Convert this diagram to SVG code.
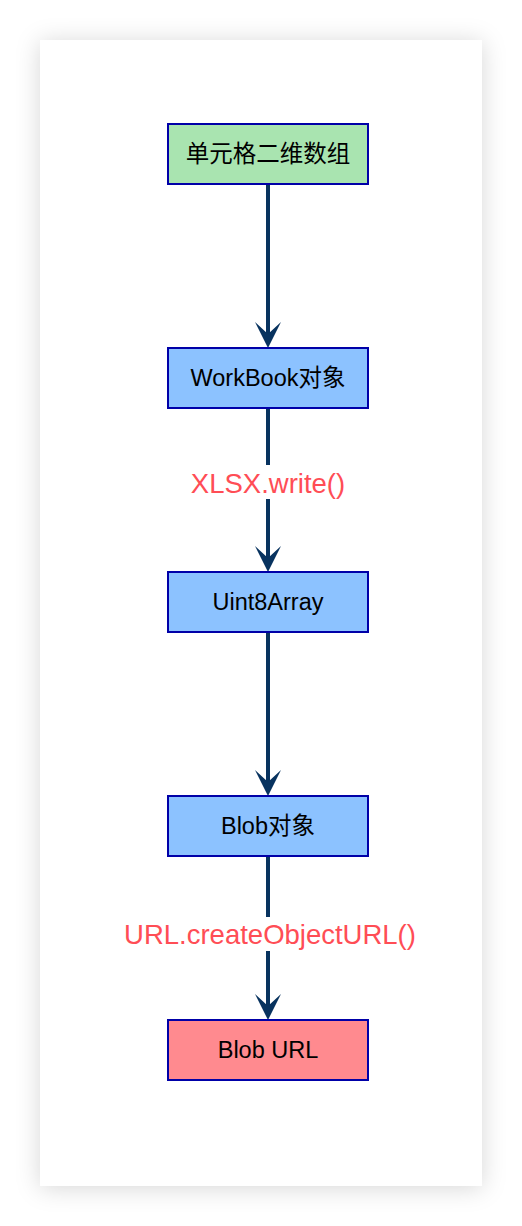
<svg xmlns="http://www.w3.org/2000/svg" width="522" height="1226" viewBox="0 0 522 1226">
<style>
.node rect{stroke:#0000a8;stroke-width:2}
.node text{font-family:"Liberation Sans","Noto Sans CJK SC",sans-serif;font-size:23.5px;fill:#000;text-anchor:middle;dominant-baseline:central}
.edge{stroke:#08335f;stroke-width:4;fill:none}
.lbl{font-family:"Liberation Sans",sans-serif;font-size:27.5px;fill:#ff4d55;text-anchor:middle;dominant-baseline:central}
</style>
<defs>
<filter id="sh" x="-20%" y="-10%" width="140%" height="120%">
<feDropShadow dx="0" dy="2" stdDeviation="12" flood-color="#000" flood-opacity="0.16"/>
</filter>
<marker id="arr" markerUnits="userSpaceOnUse" markerWidth="30" markerHeight="30" viewBox="0 0 30 30" refX="14" refY="15" orient="auto" overflow="visible">
<path d="M28,15 L2,2 L14,15 L2,28 Z" fill="#08335f"/>
</marker>
</defs>
<rect width="522" height="1226" fill="#fff"/>
<rect x="40" y="40" width="442" height="1146" fill="#fff" filter="url(#sh)"/>
<g id="connectors">
<line class="edge" x1="268" y1="184" x2="268" y2="334" marker-end="url(#arr)"/>
<line class="edge" x1="268" y1="408" x2="268" y2="558" marker-end="url(#arr)"/>
<line class="edge" x1="268" y1="632" x2="268" y2="782" marker-end="url(#arr)"/>
<line class="edge" x1="268" y1="856" x2="268" y2="1006" marker-end="url(#arr)"/>
<rect x="180" y="465" width="176" height="34" fill="#fff"/>
<text class="lbl" x="268" y="483">XLSX.write()</text>
<rect x="112" y="917" width="316" height="34" fill="#fff"/>
<text class="lbl" x="270" y="934">URL.createObjectURL()</text>
</g>
<g id="n1" class="node"><rect x="168" y="124" width="200" height="60" fill="#a9e4b0"/><text x="268" y="154">单元格二维数组</text></g>
<g id="n2" class="node"><rect x="168" y="348" width="200" height="60" fill="#8cc2ff"/><text x="268" y="378">WorkBook对象</text></g>
<g id="n3" class="node"><rect x="168" y="572" width="200" height="60" fill="#8cc2ff"/><text x="268" y="602">Uint8Array</text></g>
<g id="n4" class="node"><rect x="168" y="796" width="200" height="60" fill="#8cc2ff"/><text x="268" y="826">Blob对象</text></g>
<g id="n5" class="node"><rect x="168" y="1020" width="200" height="60" fill="#ff8a8f"/><text x="268" y="1050">Blob URL</text></g>
</svg>
